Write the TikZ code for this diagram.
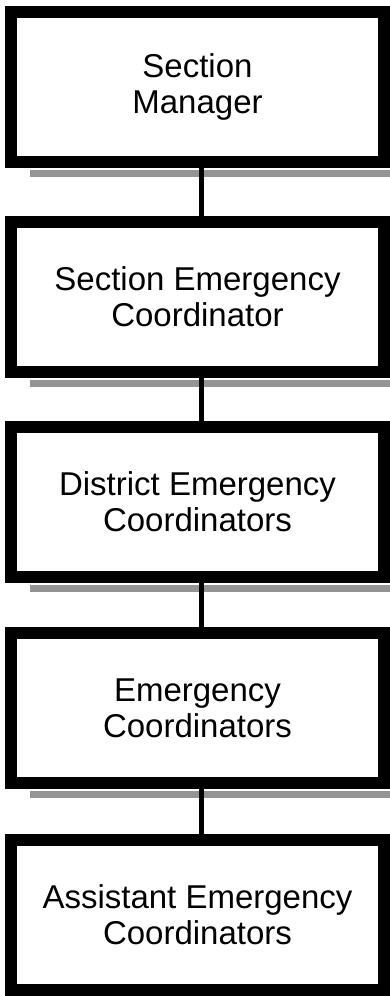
\documentclass[tikz,border=0pt]{standalone}
\usepackage{fontspec}
\setmainfont{Liberation Sans}
\usetikzlibrary{calc}
\begin{document}
\begin{tikzpicture}[x=1pt,y=-1pt,
  box/.style={draw=black, line width=12pt, fill=white, minimum width=373pt, minimum height=150pt,
    align=center, inner sep=0pt, font=\fontsize{33}{36}\selectfont},
  shadowfill/.style={fill=black!42},
  link/.style={draw=black, line width=5pt}]
\useasboundingbox (0,0) rectangle (390,996);
\node[box] (sm) at (197.5,87) {Section\\Manager};
\node[box] (sec) at (197.5,296.5) {Section Emergency\\Coordinator};
\node[box] (dec) at (197.5,502) {District Emergency\\Coordinators};
\node[box] (ec) at (197.5,708) {Emergency\\Coordinators};
\node[box] (aec) at (197.5,914.5) {Assistant Emergency\\Coordinators};
\foreach \n in {sm,sec,dec,ec}{
  \fill[shadowfill] ($(\n.south west)+(25pt,-2pt)$) rectangle ($(\n.south east)+(1pt,-9pt)$);
}
\draw[link] ([xshift=4pt]sm.south) -- ([xshift=4pt]sec.north);
\draw[link] ([xshift=4pt]sec.south) -- ([xshift=4pt]dec.north);
\draw[link] ([xshift=4pt]dec.south) -- ([xshift=4pt]ec.north);
\draw[link] ([xshift=4pt]ec.south) -- ([xshift=4pt]aec.north);
\end{tikzpicture}
\end{document}
